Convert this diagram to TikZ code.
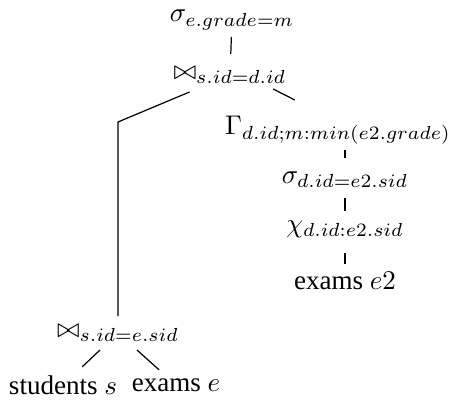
\documentclass[tikz,border=0pt]{standalone}
\usepackage[no-math]{fontspec}
\setmainfont{Liberation Serif}
\usepackage{amsmath,amssymb}
\usetikzlibrary{positioning,calc}

\begin{document}
\begin{tikzpicture}[
  x=0.37pt,y=-0.37pt,
  op/.style={inner sep=3pt},
  edge/.style={line width=0.45pt}
]
\useasboundingbox (0,0) rectangle (455,403);
% upper part of the plan
\node[op] (sel) at (232,20) {$\sigma_{e.grade=m}$};
\node[op] (join) at (230,75) {$\bowtie_{s.id=d.id}$};
\node[op] (grp) at (338,130) {$\Gamma_{d.id;m:min(e2.grade)}$};
\node[op] (sel2) at (345,180) {$\sigma_{d.id=e2.sid}$};
\node[op] (map) at (345,229) {$\chi_{d.id:e2.sid}$};
\node[op] (ex2) at (345,281) {exams $e2$};
% lower part
\coordinate (bend) at (118,122);
\node[op] (join2) at (118,333) {$\bowtie_{s.id=e.sid}$};
\node[op] (stud) at (63,385) {students $s$};
\node[op] (ex) at (176,385) {exams $e$};
\draw[edge, shorten <=-0.5pt, shorten >=1.5pt] (sel) -- (join);
\draw[edge] (join) -- (bend) -- (join2);
\draw[edge] ($(join)!0.4!(grp)+(0,-8)$) -- ($(join)!0.6!(grp)+(0,-8)$);
\draw[edge, shorten <=-1pt, shorten >=2pt] (grp.south -| sel2) -- (sel2);
\draw[edge, shorten <=0.5pt, shorten >=0.3pt] (sel2) -- (map);
\draw[edge, shorten <=2.4pt] (map) -- (ex2);
\draw[edge] (join2) -- (stud);
\draw[edge] (join2) -- (ex);
\end{tikzpicture}
\end{document}
